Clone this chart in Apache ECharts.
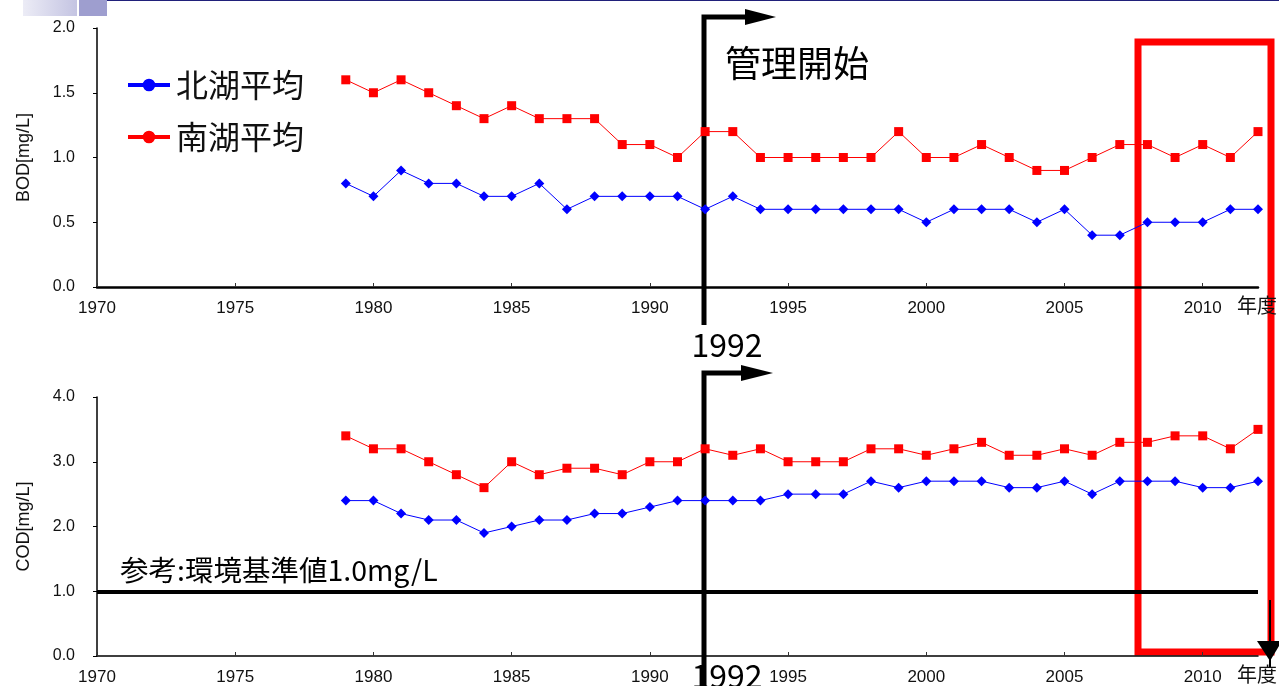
<!DOCTYPE html>
<html><head><meta charset="utf-8">
<script src="https://cdn.jsdelivr.net/npm/echarts@6/dist/echarts.min.js"></script>
<style>html,body{margin:0;padding:0;background:#fff}#c{width:1279px;height:686px}</style>
</head><body><div id="c"></div>
<script>
const years = [1979,1980,1981,1982,1983,1984,1985,1986,1987,1988,1989,1990,1991,1992,1993,1994,1995,1996,1997,1998,1999,2000,2001,2002,2003,2004,2005,2006,2007,2008,2009,2010,2011,2012];
const bodNorth = [0.8,0.7,0.9,0.8,0.8,0.7,0.7,0.8,0.6,0.7,0.7,0.7,0.7,0.6,0.7,0.6,0.6,0.6,0.6,0.6,0.6,0.5,0.6,0.6,0.6,0.5,0.6,0.4,0.4,0.5,0.5,0.5,0.6,0.6];
const bodSouth = [1.6,1.5,1.6,1.5,1.4,1.3,1.4,1.3,1.3,1.3,1.1,1.1,1.0,1.2,1.2,1.0,1.0,1.0,1.0,1.0,1.2,1.0,1.0,1.1,1.0,0.9,0.9,1.0,1.1,1.1,1.0,1.1,1.0,1.2];
const codNorth = [2.4,2.4,2.2,2.1,2.1,1.9,2.0,2.1,2.1,2.2,2.2,2.3,2.4,2.4,2.4,2.4,2.5,2.5,2.5,2.7,2.6,2.7,2.7,2.7,2.6,2.6,2.7,2.5,2.7,2.7,2.7,2.6,2.6,2.7];
const codSouth = [3.4,3.2,3.2,3.0,2.8,2.6,3.0,2.8,2.9,2.9,2.8,3.0,3.0,3.2,3.1,3.2,3.0,3.0,3.0,3.2,3.2,3.1,3.2,3.3,3.1,3.1,3.2,3.1,3.3,3.3,3.4,3.4,3.2,3.5];
const seriesNames = ['北湖平均','南湖平均'];
const yNames = ['BOD[mg/L]','COD[mg/L]'];
const xName = '年度';
const standardValue = 1.0;
const standardLabel = '参考:環境基準値1.0mg/L';
const startYear = 1992;
const startLabel = '管理開始';

const FONT = '"Noto Sans CJK JP", "Liberation Sans", sans-serif';
const NUMFONT = '"Liberation Sans", Arial, sans-serif';
const zip = (a) => years.map((y,i)=>[y,a[i]]);
const legendIcon = 'path://M0,5 L40,5 L40,9 L0,9 Z M20,1 A6,6 0 1 1 20,13 A6,6 0 1 1 20,1 Z';

function xAxis(gi, thick){
  return {type:'value', gridIndex:gi, min:1970, max:2012, interval:5,
    name:xName, nameLocation:'end', nameGap:-21,
    nameTextStyle:{fontFamily:FONT, fontSize:20, color:'#111', verticalAlign:'top', align:'left', padding:[8,0,0,0]},
    axisLine:{lineStyle:{color:'#000', width:thick}},
    axisTick:{inside:true, length:4, lineStyle:{color:'#333', width:1}},
    axisLabel:{showMaxLabel:false, fontFamily:NUMFONT, fontSize:17, color:'#111', margin:13, formatter:v=>String(v)},
    splitLine:{show:false}};
}
function yAxis(gi, max, interval, name){
  return {type:'value', gridIndex:gi, min:0, max:max, interval:interval,
    name:name, nameLocation:'middle', nameGap:64, nameRotate:90,
    nameTextStyle:{fontFamily:NUMFONT, fontSize:18, color:'#111'},
    axisLine:{show:true, lineStyle:{color:'#000', width:1.5}},
    axisTick:{show:true, length:4, lineStyle:{color:'#000'}},
    axisLabel:{fontFamily:NUMFONT, fontSize:16, color:'#111', margin:22, formatter:v=>v.toFixed(1)},
    splitLine:{show:false}};
}
function ser(name, data, gi, color, symbol, extra){
  return Object.assign({name:name, type:'line', xAxisIndex:gi, yAxisIndex:gi, data:zip(data),
    symbol:symbol, symbolSize:symbol==='diamond'?10:9, color:color,
    lineStyle:{color:color, width:1}, itemStyle:{color:color}, animation:false}, extra||{});
}

const chart = echarts.init(document.getElementById('c'));
chart.setOption({
  backgroundColor:'#fff',
  animation:false,
  grid:[{left:97, top:28, width:1161, height:259}, {left:97, top:397, width:1161, height:260}],
  xAxis:[xAxis(0,2.5), xAxis(1,1.5)],
  yAxis:[yAxis(0,2.0,0.5,yNames[0]), yAxis(1,4.0,1.0,yNames[1])],
  legend:{left:128, top:69, padding:0, orient:'vertical', itemGap:20, itemWidth:42, itemHeight:14,
    textStyle:{fontFamily:FONT, fontSize:32, color:'#111', padding:[0,0,0,1]},
    data:[{name:seriesNames[0], icon:legendIcon, itemStyle:{color:'#0000ff'}},
          {name:seriesNames[1], icon:legendIcon, itemStyle:{color:'#ff0000'}}]},
  series:[
    ser(seriesNames[0], bodNorth, 0, '#0000ff', 'diamond'),
    ser(seriesNames[1], bodSouth, 0, '#ff0000', 'rect'),
    ser(seriesNames[0], codNorth, 1, '#0000ff', 'diamond', {
      markLine:{silent:true, symbol:'none', animation:false,
        lineStyle:{color:'#000', width:4, type:'solid'}, label:{show:false},
        data:[{yAxis:standardValue}]}}),
    ser(seriesNames[1], codSouth, 1, '#ff0000', 'rect')
  ]
});

const px = chart.convertToPixel({xAxisIndex:0}, startYear);
const ax = Math.round(px) - 1;
chart.setOption({graphic:[
  // header decoration
  {type:'rect', shape:{x:23,y:0,width:54,height:16}, style:{fill:new echarts.graphic.LinearGradient(0,0,1,0,[{offset:0,color:'#ececf6'},{offset:1,color:'#c4c4e2'}])}},
  {type:'rect', shape:{x:79,y:0,width:28,height:16}, style:{fill:'#9e9ecf'}},
  {type:'line', shape:{x1:107,y1:0.5,x2:1279,y2:0.5}, style:{stroke:'#20207a', lineWidth:1}},
  // top arrow
  {type:'polyline', shape:{points:[[ax,325],[ax,17],[748,17]]}, style:{stroke:'#000', lineWidth:5, fill:null}},
  {type:'polygon', shape:{points:[[745,9],[776,17],[745,25]]}, style:{fill:'#000'}},
  {type:'text', x:725, y:63, style:{text:startLabel, fontFamily:FONT, fontSize:36, fill:'#000', verticalAlign:'middle'}},
  {type:'text', x:727, y:345, style:{text:String(startYear), fontFamily:FONT, fontSize:32, fill:'#000', align:'center', verticalAlign:'middle'}},
  // bottom arrow
  {type:'polyline', shape:{points:[[ax,690],[ax,373],[744,373]]}, style:{stroke:'#000', lineWidth:5, fill:null}},
  {type:'polygon', shape:{points:[[741,365],[773,373],[741,381]]}, style:{fill:'#000'}},
  {type:'text', x:727, y:676, style:{text:String(startYear), fontFamily:FONT, fontSize:32, fill:'#000', align:'center', verticalAlign:'middle'}},
  // reference label
  {type:'text', x:120, y:570, style:{text:standardLabel, fontFamily:FONT, fontSize:28.5, fill:'#000', verticalAlign:'middle'}},
  // red box
  {type:'rect', shape:{x:1138,y:42,width:133,height:610}, style:{stroke:'#ff0000', lineWidth:7, fill:null}},
  {type:'line', shape:{x1:1270,y1:600,x2:1270,y2:668}, style:{stroke:'#000', lineWidth:2}},
  {type:'polygon', shape:{points:[[1257,641],[1282,641],[1270,661]]}, style:{fill:'#000'}}
]});
</script></body></html>
